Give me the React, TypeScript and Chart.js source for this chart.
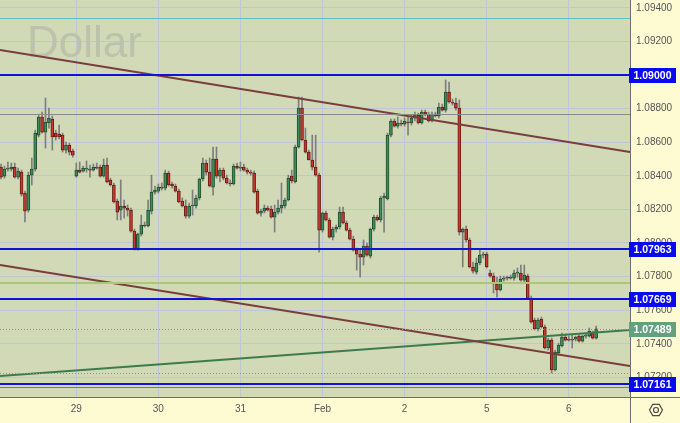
import React, { useEffect, useRef } from 'react';
import { Chart, registerables } from 'chart.js';

Chart.register(...registerables);

// ---- Hourly EUR/USD candles (Jan 26 .. Feb 6) ----
const openPrices = [
  1.08452, 1.08398, 1.0844, 1.0844, 1.08452, 1.08392, 1.08422, 1.08297, 1.08196, 1.08404,
  1.0844, 1.08642, 1.0875, 1.0866, 1.08714, 1.08738, 1.08654, 1.08648, 1.08642, 1.08553,
  1.08583, 1.08547, 1.08398, 1.08434, 1.08428, 1.0844, 1.0844, 1.08434, 1.08452, 1.08452,
  1.08398, 1.08464, 1.08375, 1.08345, 1.0825, 1.08196, 1.0822, 1.08208, 1.08196, 1.08071,
  1.07964, 1.08053, 1.08107, 1.08101, 1.0819, 1.08303, 1.08309, 1.08333, 1.08327, 1.08416,
  1.08351, 1.08339, 1.08309, 1.0825, 1.0822, 1.0816, 1.0822, 1.0822, 1.08268, 1.08381,
  1.08476, 1.08422, 1.08333, 1.085, 1.08398, 1.08434, 1.08386, 1.08357, 1.08351, 1.08458,
  1.08446, 1.08452, 1.08434, 1.08422, 1.08416, 1.08309, 1.08178, 1.0819, 1.08208, 1.08202,
  1.08154, 1.08184, 1.08208, 1.0822, 1.08256, 1.08398, 1.08363, 1.08571, 1.08803, 1.08613,
  1.08541, 1.08494, 1.08452, 1.08404, 1.08077, 1.08178, 1.08137, 1.08035, 1.08083, 1.08095,
  1.08184, 1.08119, 1.08077, 1.08023, 1.07958, 1.07934, 1.07916, 1.07982, 1.07922, 1.08083,
  1.08154, 1.08137, 1.08268, 1.08262, 1.08642, 1.08726, 1.08696, 1.08714, 1.08708, 1.0872,
  1.08714, 1.08744, 1.08761, 1.08714, 1.08779, 1.08767, 1.08726, 1.08767, 1.08756, 1.08809,
  1.08791, 1.08898, 1.08839, 1.08833, 1.08803, 1.08065, 1.08083, 1.08018, 1.07857, 1.07827,
  1.07881, 1.07928, 1.07934, 1.07821, 1.07803, 1.07756, 1.0772, 1.07785, 1.07791, 1.07797,
  1.07791, 1.07821, 1.07821, 1.07779, 1.07803, 1.07672, 1.07541, 1.07488, 1.07547, 1.075,
  1.07375, 1.07422, 1.07244, 1.07345, 1.07387, 1.0744, 1.07428, 1.07422, 1.07428, 1.07446,
  1.07416, 1.07446, 1.07446, 1.07464, 1.07434,
];

const highPrices = [
  1.0847, 1.08458, 1.08482, 1.08476, 1.08476, 1.08446, 1.08434, 1.08309, 1.08422, 1.08506,
  1.08672, 1.08767, 1.08779, 1.08863, 1.08803, 1.08756, 1.08672, 1.08702, 1.08654, 1.08601,
  1.08595, 1.08559, 1.08476, 1.08482, 1.08458, 1.08488, 1.08464, 1.0847, 1.08476, 1.08464,
  1.085, 1.08506, 1.08386, 1.08357, 1.08262, 1.08375, 1.08256, 1.08226, 1.08208, 1.08083,
  1.08059, 1.08166, 1.08125, 1.08256, 1.08404, 1.08339, 1.08351, 1.08357, 1.08434, 1.08428,
  1.08363, 1.08351, 1.08321, 1.08268, 1.08256, 1.08238, 1.08315, 1.08285, 1.08386, 1.08506,
  1.08494, 1.08506, 1.08571, 1.08571, 1.08446, 1.08446, 1.08404, 1.08375, 1.0847, 1.08476,
  1.08482, 1.0847, 1.08446, 1.08434, 1.08428, 1.08321, 1.08202, 1.08226, 1.0822, 1.0822,
  1.08226, 1.08256, 1.08357, 1.08268, 1.08404, 1.08434, 1.08583, 1.08869, 1.08869, 1.08684,
  1.08553, 1.08642, 1.08642, 1.08416, 1.08184, 1.0819, 1.08148, 1.08095, 1.08107, 1.08214,
  1.08214, 1.08131, 1.08089, 1.08041, 1.0797, 1.07958, 1.08018, 1.08, 1.08089, 1.08166,
  1.08166, 1.08279, 1.08297, 1.08654, 1.08738, 1.08738, 1.0875, 1.08732, 1.08744, 1.0875,
  1.08761, 1.08779, 1.08773, 1.08791, 1.08791, 1.08779, 1.08779, 1.08779, 1.08833, 1.08827,
  1.0897, 1.08958, 1.08857, 1.08863, 1.08851, 1.08089, 1.08101, 1.08029, 1.07887, 1.0791,
  1.07958, 1.07946, 1.07946, 1.07839, 1.07821, 1.07797, 1.07803, 1.07803, 1.07803, 1.07809,
  1.07839, 1.07851, 1.07869, 1.07869, 1.07815, 1.07684, 1.07553, 1.07553, 1.07559, 1.07512,
  1.07434, 1.07434, 1.07363, 1.07404, 1.07464, 1.07458, 1.07446, 1.07452, 1.07446, 1.07458,
  1.07452, 1.07464, 1.07494, 1.07476, 1.07506,
];

const lowPrices = [
  1.08381, 1.08386, 1.08428, 1.08428, 1.08386, 1.08381, 1.08279, 1.08125, 1.08184, 1.08345,
  1.08428, 1.08631, 1.08654, 1.08565, 1.08684, 1.08553, 1.08613, 1.08619, 1.08541, 1.08535,
  1.08523, 1.08511, 1.08392, 1.08416, 1.08422, 1.08422, 1.08392, 1.08428, 1.0844, 1.08392,
  1.08392, 1.08357, 1.08339, 1.08238, 1.08137, 1.08137, 1.08148, 1.0816, 1.08065, 1.07958,
  1.07958, 1.08041, 1.08095, 1.08095, 1.08172, 1.08291, 1.08297, 1.08315, 1.08315, 1.08339,
  1.08327, 1.08303, 1.08238, 1.08214, 1.08148, 1.08148, 1.08166, 1.08208, 1.08256, 1.08369,
  1.08404, 1.08333, 1.08285, 1.08386, 1.08363, 1.08375, 1.08351, 1.08339, 1.08345, 1.0844,
  1.08428, 1.08428, 1.0841, 1.08404, 1.08297, 1.08172, 1.0816, 1.08178, 1.0819, 1.08148,
  1.08065, 1.08172, 1.08178, 1.08208, 1.0825, 1.08357, 1.08357, 1.08565, 1.08607, 1.08535,
  1.08494, 1.08434, 1.08398, 1.07946, 1.08065, 1.08131, 1.08029, 1.08018, 1.08065, 1.08083,
  1.08113, 1.08071, 1.08018, 1.07952, 1.07839, 1.07797, 1.07869, 1.07922, 1.0791, 1.08071,
  1.08131, 1.08125, 1.08065, 1.08256, 1.08631, 1.0869, 1.08684, 1.08696, 1.08696, 1.08642,
  1.08702, 1.08726, 1.08708, 1.08708, 1.08756, 1.0872, 1.0872, 1.0875, 1.08744, 1.08785,
  1.08779, 1.08833, 1.08821, 1.08791, 1.08047, 1.07857, 1.08006, 1.07851, 1.07821, 1.07815,
  1.07869, 1.0791, 1.07851, 1.07797, 1.07702, 1.07678, 1.07714, 1.07773, 1.07779, 1.07785,
  1.07779, 1.07797, 1.07773, 1.07768, 1.07666, 1.07523, 1.07482, 1.07476, 1.07494, 1.07369,
  1.07363, 1.07226, 1.07238, 1.07333, 1.07381, 1.07416, 1.07416, 1.07375, 1.07416, 1.0741,
  1.0741, 1.07434, 1.0744, 1.07428, 1.07428,
];

const closePrices = [
  1.08392, 1.0844, 1.08446, 1.08452, 1.08392, 1.08428, 1.08291, 1.0819, 1.08404, 1.0844,
  1.08654, 1.0875, 1.0866, 1.0872, 1.08744, 1.08631, 1.08631, 1.08631, 1.08553, 1.08583,
  1.08541, 1.08523, 1.08434, 1.08422, 1.08446, 1.08446, 1.08434, 1.08452, 1.08446, 1.08398,
  1.08464, 1.08363, 1.08345, 1.08244, 1.08184, 1.0822, 1.08208, 1.08196, 1.08071, 1.07964,
  1.08053, 1.08107, 1.08101, 1.08196, 1.08303, 1.08315, 1.08333, 1.08327, 1.08416, 1.08345,
  1.08339, 1.08309, 1.08244, 1.0822, 1.0816, 1.0822, 1.08226, 1.08268, 1.08381, 1.08476,
  1.08422, 1.08339, 1.085, 1.08398, 1.08434, 1.08386, 1.08357, 1.08351, 1.08458, 1.08446,
  1.08452, 1.08434, 1.08422, 1.08416, 1.08303, 1.08178, 1.0819, 1.08208, 1.08196, 1.08154,
  1.08184, 1.08208, 1.08226, 1.08256, 1.08386, 1.08369, 1.08571, 1.08803, 1.08613, 1.08541,
  1.08494, 1.08452, 1.08404, 1.08077, 1.08178, 1.08137, 1.08035, 1.08083, 1.08095, 1.08184,
  1.08119, 1.08077, 1.08023, 1.07958, 1.07934, 1.07916, 1.07982, 1.07928, 1.08083, 1.08154,
  1.08137, 1.08268, 1.08279, 1.08642, 1.08726, 1.08696, 1.08714, 1.08708, 1.08726, 1.08714,
  1.08744, 1.08761, 1.08714, 1.08779, 1.08767, 1.08726, 1.08767, 1.08756, 1.08809, 1.08791,
  1.08898, 1.08839, 1.08833, 1.08803, 1.08065, 1.08083, 1.08018, 1.07857, 1.07833, 1.07881,
  1.07928, 1.07934, 1.07857, 1.07803, 1.07756, 1.0772, 1.07785, 1.07791, 1.07797, 1.07791,
  1.07821, 1.07827, 1.07779, 1.07809, 1.07672, 1.07529, 1.07488, 1.07541, 1.075, 1.07375,
  1.07422, 1.07244, 1.07351, 1.07393, 1.0744, 1.07422, 1.07422, 1.07428, 1.0744, 1.07416,
  1.07446, 1.07452, 1.07476, 1.07434, 1.07489,
];

// x axis: index of the first hourly candle of each labelled day
const dayStartIndex = [22, 46, 70, 94, 118, 142, 166];
const dayLabels = ['29', '30', '31', 'Feb', '2', '5', '6'];

// y axis
const priceTicks = [1.072, 1.074, 1.076, 1.078, 1.08, 1.082, 1.084, 1.086, 1.088, 1.09, 1.092, 1.094];
const priceMin = 1.070833;
const priceMax = 1.094464;
const indexMin = -0.3;
const indexMax = 183.9;

// drawn levels
const keyLevels = [1.09, 1.07963, 1.07669, 1.07161];
const keyLevelShadow = 1.07143;
const topLevel = 1.09339;
const grayLevel = 1.08768;
const greenLevel = 1.07762;
const lowMarker = 1.07226;
// trend lines: price at the left edge and at the right edge of the plot
const upperTrend = [1.09149, 1.08541];
const lowerTrend = [1.07869, 1.07268];
const supportTrend = [1.07208, 1.07482];

const watermark = 'Dollar';

const AXIS_BG = '#fefbd2';
const PLOT_BG = '#d1d9b7';
const GRID = '#bdc8d6';
const BLUE = '#1212dc';
const UP_FILL = '#3e8d5c';
const UP_LINE = '#22502f';
const DOWN_FILL = '#c7382d';
const DOWN_LINE = '#6a1c16';
const FONT = '"Liberation Sans", Arial, sans-serif';

export default function App() {
  const ref = useRef<HTMLCanvasElement>(null);

  useEffect(() => {
    document.body.style.margin = '0';
    const canvas = ref.current;
    if (!canvas) return;

    const idx = openPrices.map((_, i) => i);
    const isUp = (i: number) => closePrices[i] >= openPrices[i];
    const bodies = idx.map((i) => ({ x: i, y: [openPrices[i], closePrices[i]] }));
    const wicks = idx.map((i) => ({ x: i, y: [lowPrices[i], highPrices[i]] }));
    const lastClose = closePrices[closePrices.length - 1];

    const trend = (pair: number[]) => [
      { x: indexMin, y: pair[0] },
      { x: indexMax, y: pair[1] },
    ];

    const decor = {
      id: 'decor',
      beforeDraw(chart: any) {
        const { ctx, chartArea: a, width, height } = chart;
        ctx.save();
        ctx.fillStyle = AXIS_BG;
        ctx.fillRect(0, 0, width, height);
        ctx.fillStyle = PLOT_BG;
        ctx.fillRect(a.left, a.top, a.right - a.left, a.bottom - a.top);
        ctx.restore();
      },
      beforeDatasetsDraw(chart: any) {
        const { ctx, chartArea: a } = chart;
        ctx.save();
        ctx.font = `44px ${FONT}`;
        ctx.fillStyle = '#bcc2ab';
        ctx.textBaseline = 'alphabetic';
        ctx.textAlign = 'left';
        ctx.fillText(watermark, a.left + 27, a.top + 57);
        ctx.restore();
      },
      afterDatasetsDraw(chart: any) {
        const { ctx, chartArea: a } = chart;
        const y = chart.scales.y;
        const hline = (v: number, color: string, w: number, dash: number[] = []) => {
          const base = Math.round(y.getPixelForValue(v));
          const py = w % 2 === 1 ? base + 0.5 : base;
          ctx.beginPath();
          ctx.setLineDash(dash);
          ctx.strokeStyle = color;
          ctx.lineWidth = w;
          ctx.moveTo(a.left, py);
          ctx.lineTo(a.right, py);
          ctx.stroke();
        };
        ctx.save();
        hline(topLevel, '#5cbfcb', 1);
        hline(grayLevel, '#8a8a8a', 1);
        hline(greenLevel, '#a9c87c', 2);
        hline(lastClose, '#8f948a', 1, [1, 2]);
        hline(lowMarker, '#8f948a', 1, [1, 2]);
        hline(keyLevelShadow, '#6270dc', 1);
        keyLevels.forEach((v) => hline(v, BLUE, 2));
        ctx.restore();
      },
      afterDraw(chart: any) {
        const { ctx, chartArea: a, width, height } = chart;
        const y = chart.scales.y;
        ctx.save();
        // separators
        ctx.strokeStyle = '#6e6e6e';
        ctx.lineWidth = 1;
        ctx.beginPath();
        ctx.moveTo(a.right + 0.5, 0);
        ctx.lineTo(a.right + 0.5, height);
        ctx.moveTo(0, a.bottom + 0.5);
        ctx.lineTo(width, a.bottom + 0.5);
        ctx.stroke();

        const box = (v: number, bg: string) => {
          const py = Math.round(y.getPixelForValue(v));
          ctx.fillStyle = bg;
          ctx.fillRect(a.right - 1, py - 7, 47, 15);
          ctx.fillStyle = '#ffffff';
          ctx.font = `bold 10.5px ${FONT}`;
          ctx.textAlign = 'center';
          ctx.textBaseline = 'middle';
          ctx.fillText(v.toFixed(5), a.right + 22.5, py + 1);
        };
        keyLevels.forEach((v) => box(v, '#0a0af0'));
        box(lastClose, '#62a07f');

        // settings icon
        const cx = a.right + 26;
        const cy = a.bottom + 13;
        ctx.strokeStyle = '#4a4a4a';
        ctx.lineWidth = 1.2;
        ctx.beginPath();
        for (let k = 0; k < 6; k++) {
          const ang = (k * Math.PI) / 3;
          const px = cx + 6.5 * Math.cos(ang);
          const py = cy + 6.5 * Math.sin(ang);
          if (k === 0) ctx.moveTo(px, py);
          else ctx.lineTo(px, py);
        }
        ctx.closePath();
        ctx.stroke();
        ctx.beginPath();
        ctx.arc(cx, cy, 2.5, 0, Math.PI * 2);
        ctx.stroke();
        ctx.restore();
      },
    };

    const chart = new Chart(canvas, {
      type: 'bar',
      data: {
        datasets: [
          {
            type: 'bar',
            label: 'wick',
            data: wicks as any,
            backgroundColor: '#7e7e7e',
            barThickness: 1,
            grouped: false,
            minBarLength: 1,
            order: 3,
          } as any,
          {
            type: 'bar',
            label: 'body',
            data: bodies as any,
            backgroundColor: idx.map((i) => (isUp(i) ? UP_FILL : DOWN_FILL)),
            borderColor: idx.map((i) => (isUp(i) ? UP_LINE : DOWN_LINE)),
            borderWidth: 1,
            borderSkipped: false,
            barThickness: 3,
            grouped: false,
            minBarLength: 1,
            order: 2,
          } as any,
          {
            type: 'line',
            label: 'upper trend',
            data: trend(upperTrend) as any,
            borderColor: '#7a3d3d',
            borderWidth: 2,
            pointRadius: 0,
            order: 1,
          } as any,
          {
            type: 'line',
            label: 'lower trend',
            data: trend(lowerTrend) as any,
            borderColor: '#7a3d3d',
            borderWidth: 2,
            pointRadius: 0,
            order: 1,
          } as any,
          {
            type: 'line',
            label: 'support trend',
            data: trend(supportTrend) as any,
            borderColor: '#3d7b4c',
            borderWidth: 2,
            pointRadius: 0,
            order: 1,
          } as any,
        ],
      },
      options: {
        responsive: false,
        maintainAspectRatio: false,
        animation: false,
        layout: { padding: 0 },
        plugins: { legend: { display: false }, tooltip: { enabled: false } },
        scales: {
          x: {
            type: 'linear',
            min: indexMin,
            max: indexMax,
            offset: false,
            afterBuildTicks: (s: any) => {
              s.ticks = dayStartIndex.map((v) => ({ value: v }));
            },
            afterFit: (s: any) => {
              s.height = 26;
              s.paddingLeft = 0;
              s.paddingRight = 0;
            },
            grid: { color: GRID, drawTicks: false, offset: false },
            border: { display: false },
            ticks: {
              autoSkip: false,
              maxRotation: 0,
              padding: 6,
              color: '#555555',
              font: { family: FONT, size: 10 },
              callback: (_v: any, i: number) => dayLabels[i],
            },
          },
          y: {
            type: 'linear',
            position: 'right',
            min: priceMin,
            max: priceMax,
            afterBuildTicks: (s: any) => {
              s.ticks = priceTicks.map((v) => ({ value: v }));
            },
            afterFit: (s: any) => {
              s.width = 50;
              s.paddingTop = 0;
              s.paddingBottom = 0;
            },
            grid: { color: GRID, drawTicks: false },
            border: { display: false },
            ticks: {
              autoSkip: false,
              padding: 6,
              color: '#555555',
              font: { family: FONT, size: 10 },
              callback: (v: any) => Number(v).toFixed(5),
            },
          },
        },
      } as any,
      plugins: [decor],
    });

    return () => chart.destroy();
  }, []);

  return (
    <div style={{ width: 680, height: 423 }}>
      <canvas ref={ref} width={680} height={423} style={{ display: 'block' }} />
    </div>
  );
}
